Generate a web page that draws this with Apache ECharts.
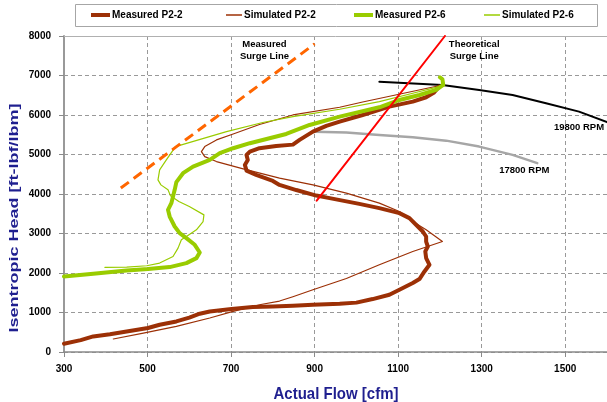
<!DOCTYPE html>
<html>
<head>
<meta charset="utf-8">
<script src="https://cdn.jsdelivr.net/npm/echarts@6/dist/echarts.min.js"></script>
<style>
  html, body { margin: 0; padding: 0; background: #fff; }
  #chart { width: 607px; height: 402px; }
</style>
</head>
<body>
<div id="chart"></div>
<script>
// Compressor head vs. flow: measured and simulated surge loops for P2-2 and P2-6

// x-axis ticks [cfm] and y-axis ticks [ft-lbf/lbm]
const flowTicks = [300, 500, 700, 900, 1100, 1300, 1500];
const headTicks = [0, 1000, 2000, 3000, 4000, 5000, 6000, 7000, 8000];

// [flow cfm, head ft-lbf/lbm]
const measuredP22 = [
  [300,210],[340,300],[370,395],[410,450],[450,521],[501,607],[529,690],[569,774],[600,870],
  [625,969],[649,1027],[701,1087],[752,1138],[800,1150],[848,1171],[896,1196],[960,1222],
  [1000,1250],[1039,1340],[1079,1449],[1103,1576],[1135,1745],[1151,1846],[1163,2039],
  [1175,2208],[1167,2377],[1165,2545],[1171,2671],[1167,2797],[1167,2924],[1159,3050],
  [1147,3177],[1127,3389],[1103,3516],[1055,3642],[1007,3750],[936,3895],[904,3960],
  [856,4100],[816,4230],[800,4330],[760,4484],[737,4593],[733,4737],[740,4863],[737,4990],
  [745,5073],[768,5159],[808,5217],[848,5250],[864,5369],[896,5579],[928,5723],[960,5832],
  [1015,6001],[1079,6211],[1135,6338],[1167,6449],[1185,6560],[1198,6717]
];
const simulatedP22 = [
  [418,329],[490,480],[569,647],[649,860],[705,1027],[768,1196],[816,1290],[848,1400],
  [896,1576],[976,1860],[1055,2208],[1135,2545],[1206,2797],[1167,3093],[1135,3303],
  [1103,3556],[1055,3768],[976,4021],[896,4230],[816,4400],[729,4636],[665,4821],[637,4947],
  [629,5073],[637,5200],[665,5369],[705,5520],[768,5760],[848,6001],[960,6196],[1015,6330],
  [1206,6760]
];
const measuredP26 = [
  [300,1912],[370,1980],[450,2064],[501,2099],[553,2150],[593,2251],[617,2377],[625,2519],
  [613,2714],[593,2883],[577,3009],[565,3177],[553,3429],[549,3599],[557,3768],[561,3935],
  [565,4105],[569,4300],[585,4527],[609,4694],[649,4863],[673,5033],[705,5159],[745,5286],
  [792,5412],[832,5520],[888,5748],[960,5958],[1055,6196],[1103,6381],[1151,6507],
  [1191,6634],[1208,6760],[1206,6904],[1200,6955]
];
const simulatedP26 = [
  [398,2140],[450,2150],[498,2183],[529,2251],[561,2419],[573,2630],[581,2840],[593,2924],
  [617,3093],[633,3303],[635,3472],[600,3683],[575,3809],[555,3953],[549,4105],[532,4231],
  [525,4357],[529,4610],[545,4863],[567,5200],[689,5579],[776,5811],[848,5958],[960,6146],
  [1055,6338],[1135,6550],[1198,6717]
];

// reference lines
const measuredSurge = [[436,4150],[900,7800]];
const theoreticalSurge = [[905,3830],[1212,8000]];
const speed19800 = [[1055,6843],[1206,6760],[1294,6634],[1374,6507],[1454,6297],[1533,6085],[1600,5820]];
const speed17800 = [[900,5579],[976,5554],[1055,5496],[1135,5437],[1215,5351],[1294,5200],[1374,4990],[1433,4780]];

// annotations placed in data space
const notes = [
  { name: 'Measured\nSurge Line', value: [780, 7645] },
  { name: 'Theoretical\nSurge Line', value: [1282, 7628] },
  { name: '19800 RPM', value: [1533, 5690] },
  { name: '17800 RPM', value: [1402, 4610] }
];

const FONT = '"Liberation Sans", Arial, sans-serif';
const BROWN = '#9C3006';
const GREEN = '#99CC00';
const NAVY = '#1F1F8F';

const chart = echarts.init(document.getElementById('chart'), null, { renderer: 'canvas' });

function legendAt(name, left, w, h) {
  return {
    data: [name], left: left, top: 10, padding: 0,
    itemWidth: w, itemHeight: h, icon: 'rect', selectedMode: false,
    textStyle: { fontFamily: FONT, fontSize: 10, fontWeight: 'bold', color: '#000', padding: [0,0,0,-3] }
  };
}

function line(name, data, color, width, extra) {
  return Object.assign({
    name: name, type: 'line', data: data, showSymbol: false, symbol: 'none',
    color: color, itemStyle: { color: color },
    lineStyle: { color: color, width: width, cap: 'round', join: 'round' },
    silent: true
  }, extra || {});
}

const plain = v => String(v);

const option = {
  animation: false,
  backgroundColor: '#fff',
  grid: { left: 64, top: 36, width: 544, height: 316 },
  legend: [
    legendAt('Measured P2-2', 91, 19, 4),
    legendAt('Simulated P2-2', 226, 16, 1.5),
    legendAt('Measured P2-6', 354, 19, 4),
    legendAt('Simulated P2-6', 484, 16, 1.5)
  ],
  graphic: [
    { type: 'rect', z: 0, shape: { x: 75.5, y: 4.5, width: 522, height: 22 },
      style: { fill: '#fff', stroke: '#a6a6a6', lineWidth: 1 } },
    { type: 'text', x: 15, y: 218, rotation: Math.PI / 2, scaleX: 1.5, scaleY: 1,
      style: { text: 'Isentropic Head [ft-lbf/lbm]', font: 'bold 12px ' + FONT, fill: NAVY,
               textAlign: 'center', textVerticalAlign: 'middle', align: 'center', verticalAlign: 'middle' } },
    { type: 'text', x: 336, y: 394, scaleX: 1, scaleY: 1.12,
      style: { text: 'Actual Flow [cfm]', font: 'bold 15px ' + FONT, fill: NAVY,
               textAlign: 'center', textVerticalAlign: 'middle', align: 'center', verticalAlign: 'middle' } }
  ],
  xAxis: [
    {
      type: 'value', min: flowTicks[0], max: 1600, interval: flowTicks[1] - flowTicks[0],
      axisLine: { show: true, onZero: false, lineStyle: { color: '#8a8a8a', width: 1.5 } },
      axisTick: { show: true, length: 5, lineStyle: { color: '#8a8a8a' } },
      axisLabel: { margin: 12, showMaxLabel: false, formatter: plain, fontFamily: FONT, fontSize: 10, fontWeight: 'bold', color: '#000' },
      splitLine: { show: true, lineStyle: { color: '#999', type: [4, 3], width: 1 } }
    },
    {
      type: 'value', position: 'top', min: flowTicks[0], max: 1600,
      axisLine: { show: true, onZero: false, lineStyle: { color: '#b0b0b0', width: 1 } },
      axisTick: { show: false }, axisLabel: { show: false }, splitLine: { show: false }
    }
  ],
  yAxis: {
    type: 'value', min: headTicks[0], max: headTicks[headTicks.length - 1], interval: headTicks[1] - headTicks[0],
    axisLine: { show: true, onZero: false, lineStyle: { color: '#999', width: 2 } },
    axisTick: { show: true, length: 5, lineStyle: { color: '#8a8a8a' } },
    axisLabel: { margin: 13, formatter: plain, fontFamily: FONT, fontSize: 10, fontWeight: 'bold', color: '#000' },
    splitLine: { show: true, lineStyle: { color: '#999', type: [4, 3], width: 1 } }
  },
  series: [
    line('19800 RPM line', speed19800, '#000', 2),
    line('17800 RPM line', speed17800, '#A6A6A6', 2.5),
    line('Measured P2-2', measuredP22, BROWN, 4),
    line('Simulated P2-2', simulatedP22, BROWN, 1.2),
    line('Measured P2-6', measuredP26, GREEN, 4),
    line('Simulated P2-6', simulatedP26, GREEN, 1.2),
    line('Theoretical surge line', theoreticalSurge, '#FF0000', 2),
    line('Measured surge line', measuredSurge, '#FF6600', 3, {
      lineStyle: { color: '#FF6600', width: 3, type: [10, 6], cap: 'butt' }
    }),
    {
      name: 'notes', type: 'scatter', data: notes, symbolSize: 0, silent: true,
      itemStyle: { color: '#000' },
      label: {
        show: true, position: 'inside', formatter: '{b}', fontFamily: FONT, opacity: 1,
        fontSize: 9.5, fontWeight: 'bold', color: '#000', lineHeight: 12, align: 'center',
        textBorderWidth: 0
      }
    }
  ]
};

chart.setOption(option);
</script>
</body>
</html>
